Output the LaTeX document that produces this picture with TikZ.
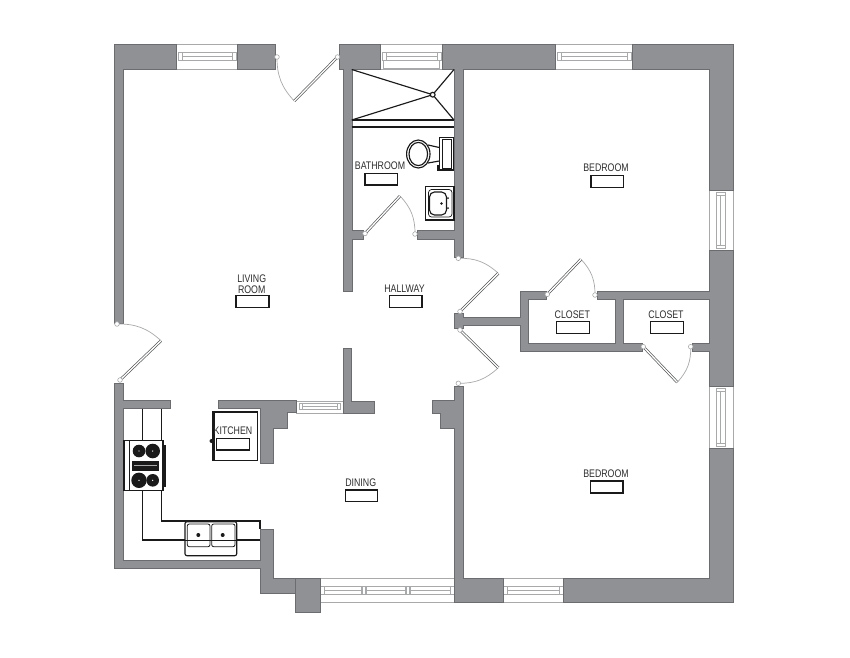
\documentclass[tikz,border=0pt]{standalone}
\usepackage{fontspec}
\setmainfont{Liberation Sans}
\definecolor{wallc}{HTML}{8F9194}
\definecolor{walle}{HTML}{6A6C6F}
\definecolor{winc}{HTML}{A8A9AB}
\definecolor{inkc}{HTML}{1A1A1A}
\definecolor{txtc}{HTML}{2E2E2E}
\definecolor{leafc}{HTML}{555759}
\tikzset{
  wallshape/.style={fill=wallc,draw=walle,line width=.5pt,line join=miter},
  winline/.style={draw=winc,line width=.8pt},
  paneline/.style={draw=winc,line width=.7pt},
  ink/.style={draw=inkc,line width=1.15pt},
  tag/.style={draw=inkc,line width=1.1pt,fill=white},
  leaf/.style={draw=leafc,double=white,double distance=1.3pt,line width=.7pt},
  swing/.style={draw=winc,line width=.7pt},
  jambc/.style={draw=winc,fill=white,line width=.6pt},
  lab/.style={font=\fontsize{11}{11}\selectfont,text=txtc,inner sep=0pt,xscale=.8},
}
\newcommand{\hwindow}[4]{\draw[winline] (#1,#3) -- (#2,#3) (#1,#4) -- (#2,#4);}
\newcommand{\hpane}[3]{%
  \draw[paneline] (#1-4,#3+8.7) rectangle (#2+4,#3+16.3);
  \draw[paneline] (#1,#3+8.7) rectangle (#2,#3+16.3);
  \draw[paneline] (#1,#3+12.3) -- (#2,#3+12.3);}
\newcommand{\vwindow}[2]{%
  \draw[winline] (709,#1) -- (709,#2) (733,#1) -- (733,#2);
  \draw[paneline] (716.5,#1+2) rectangle (725.5,#2-2);
  \draw[paneline] (720,#1+5) -- (720,#2-5);
  \draw[paneline] (716.5,#1+5) -- (725.5,#1+5) (716.5,#2-5) -- (725.5,#2-5);}
\newcommand{\door}[6]{%
  \coordinate (#1h) at (#2);
  \coordinate (#1e) at (#3);
  \coordinate (#1j) at (#4);
  \draw[swing] (#1e) to[#5=#6] (#1j);
  \draw[leaf] (#1h) -- (#1e);
  \draw[jambc] (#1h) circle (2.3);
  \draw[jambc] (#1j) circle (2.3);}
\begin{document}
\begin{tikzpicture}[x=1pt,y=-1pt]
\useasboundingbox (0,0) rectangle (850,657);
\fill[white] (0,0) rectangle (850,657);

% windows
\hwindow{176}{237}{44}{69}
\hpane{182}{232}{44}
\hwindow{380}{442}{44}{69}
\hpane{386}{437}{44}
\draw[paneline] (383,60) rectangle (439,68);
\hwindow{555}{632}{44}{69}
\hpane{561}{627}{44}
\hwindow{296}{343}{401}{413}
\draw[paneline] (299,403) rectangle (340,409.5);
\draw[paneline] (302,403) -- (302,409.5) (337,403) -- (337,409.5) (302,406) -- (337,406);
\hwindow{320}{454}{578}{602}
\hpane{324}{361.7}{578}
\hpane{366}{405.7}{578}
\hpane{410.3}{450}{578}
\hwindow{503}{563}{578}{602}
\hpane{507.3}{559}{578}
\vwindow{190}{250}
\vwindow{386}{448}

% walls
\draw[wallshape] (114,44) -- (176,44) -- (176,69) -- (123,69) -- (123,323) -- (114,323) -- cycle;
\draw[wallshape] (237,44) rectangle (275,69);
\draw[wallshape] (339,44) -- (380,44) -- (380,69) -- (352,69) -- (352,230) -- (363,230) -- (363,239) -- (352,239) -- (352,291) -- (343,291) -- (343,69) -- (339,69) -- cycle;
\draw[wallshape] (442,44) -- (555,44) -- (555,69) -- (463,69) -- (463,257) -- (454,257) -- (454,239) -- (417,239) -- (417,230) -- (454,230) -- (454,69) -- (442,69) -- cycle;
\draw[wallshape] (632,44) -- (733,44) -- (733,190) -- (709,190) -- (709,69) -- (632,69) -- cycle;
\draw[wallshape] (709,250) -- (733,250) -- (733,386) -- (709,386) -- (709,351) -- (692,351) -- (692,343) -- (709,343) -- (709,299) -- (623,299) -- (623,343) -- (642,343) -- (642,351) -- (520,351) -- (520,325) -- (463,325) -- (463,328) -- (454,328) -- (454,313) -- (463,313) -- (463,317) -- (520,317) -- (520,291) -- (546,291) -- (546,299) -- (528,299) -- (528,343) -- (615,343) -- (615,299) -- (597,299) -- (597,291) -- (709,291) -- cycle;
\draw[wallshape] (709,448) -- (733,448) -- (733,602) -- (563,602) -- (563,578) -- (709,578) -- cycle;
\draw[wallshape] (454,386) -- (463,386) -- (463,578) -- (503,578) -- (503,602) -- (454,602) -- (454,428) -- (440,428) -- (440,413) -- (432,413) -- (432,400) -- (454,400) -- cycle;
\draw[wallshape] (114,383) -- (123,383) -- (123,400.7) -- (170,400.7) -- (170,408.7) -- (123,408.7) -- (123,560) -- (260,560) -- (260,529) -- (273,529) -- (273,578) -- (295,578) -- (295,593) -- (260,593) -- (260,568) -- (114,568) -- cycle;
\draw[wallshape] (295,578) rectangle (320,612);
\draw[wallshape] (343,348) -- (351.5,348) -- (351.5,401) -- (374,401) -- (374,413) -- (343,413) -- cycle;
\draw[wallshape] (218,400.7) -- (296,400.7) -- (296,412.5) -- (287,412.5) -- (287,428) -- (273,428) -- (273,463) -- (260,463) -- (260,408.7) -- (218,408.7) -- cycle;

% doors
\door{da}{337.5,57}{294.3,101}{277,57}{bend left}{22}
\door{db}{120,380}{161,340.7}{117,324}{bend right}{22}
\door{dc}{460,311.5}{498.3,273.3}{458.3,258.3}{bend right}{22}
\door{dd}{460,330}{498.3,367.7}{458.3,383.3}{bend left}{22}
\door{de}{547.3,294.3}{581,259.3}{595,295}{bend left}{22}
\door{df}{643.3,346.7}{677.3,382.3}{690.7,346.7}{bend right}{22}
\door{dg}{365,233.5}{400,196}{415,234}{bend left}{22}

% shower
\coordinate (drain) at (432.7,94.7);
\draw[ink] (351.7,69.5) -- (drain) (454,69.5) -- (drain) (351.7,120) -- (drain) (454,120) -- (drain);
\draw[ink,fill=white] (drain) circle (2.4);
\draw[ink] (351.7,120) -- (454,120) (351.7,127) -- (454,127);

% toilet
\draw[ink] (428,145) -- (439.3,147.5) (428,163) -- (439.3,161);
\draw[ink,fill=white] (418.3,154) ellipse (11.7 and 14);
\draw[ink,fill=white] (418.3,154) ellipse (9.3 and 11.6);
\draw[ink,fill=white] (439.3,137.3) rectangle (453.3,170);
\draw[ink,line width=.7pt] (442.7,139.5) rectangle (451,168);
\draw[ink,fill=inkc,line width=.5pt] (437.5,165) rectangle (439.3,170);

% bathroom sink
\draw[ink,line width=1.4pt,fill=white] (425.7,186.7) rectangle (454,220);
\draw[ink,line width=.7pt,rounded corners=3pt] (428.5,189.5) rectangle (452,217);
\draw[ink,rounded corners=5pt] (429.5,192) rectangle (446.5,215);
\fill[inkc] (441.5,203.5) circle (1.4) (448,198) circle (1) (448,208) circle (1);

% kitchen fridge
\draw[ink,fill=white] (212.5,412) rectangle (257.7,460.7);
\draw[draw=inkc,line width=2pt] (214,412) -- (214,460.7);
\fill[inkc] (211.5,441) circle (2);

% counters
\draw[ink] (142.3,408.7) -- (142.3,440.7) (161.7,408.7) -- (161.7,440.7);
\draw[ink] (142.3,490.7) -- (142.3,540) -- (260,540);
\draw[ink] (161.7,490.7) -- (161.7,521) -- (260,521) -- (260,529);

% stove
\draw[ink,fill=white] (124,440.7) rectangle (163,490.7);
\draw[ink] (129.3,440.7) -- (129.3,490.7);
\fill[inkc] (163,445) rectangle (166,487);
\fill[inkc] (132,461) rectangle (158.5,471);
\draw[winc,line width=.4pt] (134,465.5) -- (157,465.5);
\foreach \bx/\by/\br in {139/451/6.3,152.7/451/7.3,139/480.3/7.7,152.7/480.3/6.3}{
  \fill[inkc] (\bx,\by) circle (\br);
  \fill[white] (\bx,\by) circle (.7);
}

% kitchen sink
\draw[ink,rounded corners=2pt,fill=white] (185,521.7) rectangle (236.7,555.7);
\draw[ink,line width=.8pt,rounded corners=2pt] (187.3,524) rectangle (210,546.7);
\draw[ink,line width=.8pt,rounded corners=2pt] (211.7,524) rectangle (235,546.7);
\draw[ink,line width=.8pt] (185,540) -- (236.7,540);
\fill[inkc] (198.3,535) circle (2) (222.7,535) circle (2);

% labels
\node[lab] (lr1) at (251.7,279) {LIVING};
\node[lab] (lr2) at (251.7,289.3) {ROOM};
\draw[tag] (236,295.7) rectangle (269,307.3);
\node[lab] (hw) at (404.5,288.7) {HALLWAY};
\draw[tag] (389.3,295.7) rectangle (422,307.3);
\node[lab] (ba) at (380,166) {BATHROOM};
\draw[tag] (365,173.3) rectangle (397.7,185);
\node[lab] (br1) at (606,168) {BEDROOM};
\draw[tag] (591,175.7) rectangle (623.3,187.3);
\node[lab] (cl1) at (572.3,314.7) {CLOSET};
\draw[tag] (556.7,321.7) rectangle (589.7,333.7);
\node[lab] (cl2) at (666,314.7) {CLOSET};
\draw[tag] (650.3,321.7) rectangle (683.3,333.7);
\node[lab] (br2) at (606,474) {BEDROOM};
\draw[tag] (590.5,481) rectangle (623,493);
\node[lab] (di) at (360.7,482.3) {DINING};
\draw[tag] (345.3,490) rectangle (377.7,501.7);
\node[lab] (ki) at (233,431) {KITCHEN};
\draw[tag] (216.7,438.3) rectangle (249.3,450);
\end{tikzpicture}
\end{document}
